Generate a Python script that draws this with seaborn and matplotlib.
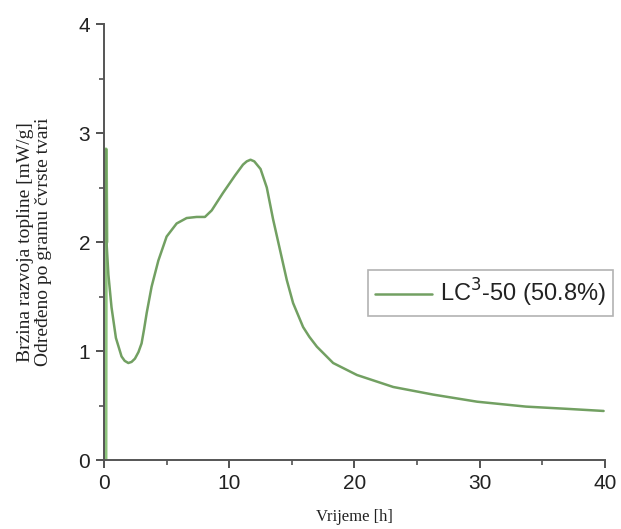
import numpy as np
import pandas as pd
import matplotlib
matplotlib.use("Agg")
import matplotlib.pyplot as plt
import seaborn as sns
from matplotlib.ticker import MultipleLocator

# initial spike right after mixing
skok_x = [0.12, 0.15, 0.2]
skok_y = [0.0, 2.85, 2.0]

# main heat flow curve
vrijeme = [0.15, 0.2, 0.35, 0.6, 0.95, 1.4, 1.65, 1.94, 2.2, 2.47, 2.75, 3.0, 3.2,
           3.41, 3.8, 4.34, 5.0, 5.8, 6.6, 7.4, 8.06, 8.6, 9.5, 10.46, 11.1, 11.4,
           11.7, 12.0, 12.5, 13.0, 13.5, 14.05, 14.6, 15.1, 15.9, 16.4, 17.0, 18.3,
           20.2, 23.1, 26.3, 29.8, 33.7, 36.9, 39.9]
toplina = [2.85, 2.0, 1.7, 1.4, 1.12, 0.95, 0.91, 0.89, 0.9, 0.93, 0.99, 1.07, 1.2,
           1.35, 1.59, 1.83, 2.05, 2.17, 2.22, 2.23, 2.23, 2.29, 2.45, 2.61, 2.71, 2.74,
           2.755, 2.74, 2.67, 2.5, 2.21, 1.93, 1.65, 1.44, 1.22, 1.13, 1.04, 0.89,
           0.78, 0.67, 0.60, 0.535, 0.49, 0.47, 0.45]
serija = "LC$^{3}$-50 (50.8%)"

df = pd.DataFrame({"Vrijeme": vrijeme, "Toplina": toplina})
df_skok = pd.DataFrame({"Vrijeme": skok_x, "Toplina": skok_y})

sns.set_style("white")
plt.rcParams["font.family"] = ["Liberation Sans", "DejaVu Sans"]

fig = plt.figure(figsize=(6.21, 5.29), dpi=100)
ax = fig.add_axes([0.1675, 0.1304, 0.8065, 0.8242])

sns.lineplot(data=df_skok, x="Vrijeme", y="Toplina", ax=ax, color="#8dc47c",
             linewidth=2.8, sort=False, legend=False)
sns.lineplot(data=df, x="Vrijeme", y="Toplina", ax=ax, color="#72a062",
             linewidth=1.8, label=serija, sort=False)
for ln in ax.lines:
    ln.set_solid_joinstyle("round")

ax.set_xlim(0, 40)
ax.set_ylim(0, 4)
ax.xaxis.set_major_locator(MultipleLocator(10))
ax.xaxis.set_minor_locator(MultipleLocator(5))
ax.yaxis.set_major_locator(MultipleLocator(1))
ax.yaxis.set_minor_locator(MultipleLocator(0.5))
ax.tick_params(which="major", direction="out", length=6, width=1.3, colors="#444444",
               labelsize=15, pad=4, left=True, bottom=True)
ax.tick_params(which="minor", direction="out", length=3.5, width=1.1, colors="#444444",
               left=True, bottom=True)
for t in ax.get_xticklabels() + ax.get_yticklabels():
    t.set_color("#222222")

sns.despine(ax=ax)
for s in ["left", "bottom"]:
    ax.spines[s].set_color("#555555")
    ax.spines[s].set_linewidth(1.4)

ax.set_xlabel("Vrijeme [h]", family="Liberation Serif", fontsize=12, color="#222222")
ax.xaxis.set_label_coords(0.5, -0.112)
ax.set_ylabel("Brzina razvoja topline [mW/g]\nOdređeno po gramu čvrste tvari",
              family="Liberation Serif", fontsize=14, color="#222222", linespacing=1.1)
ax.yaxis.set_label_coords(-0.104, 0.5)

leg = ax.legend(loc="upper left", bbox_to_anchor=(368 / 621, 1 - 270 / 529),
                bbox_transform=fig.transFigure, borderaxespad=0, fontsize=17,
                frameon=True, fancybox=False, handlelength=2.4, handletextpad=0.35,
                borderpad=0.3)
leg.get_frame().set_edgecolor("#a0a0a0")
leg.get_frame().set_linewidth(1.2)
for t in leg.get_texts():
    t.set_color("#222222")

fig.savefig("out.png", dpi=100)
